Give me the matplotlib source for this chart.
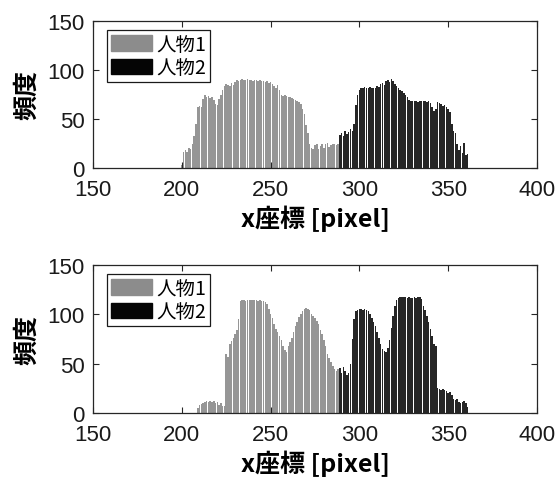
import matplotlib
matplotlib.use("Agg")
import matplotlib.pyplot as plt
import numpy as np

plt.rcParams['font.family'] = ['Liberation Sans', 'Noto Sans CJK JP', 'DejaVu Sans']

# ---- data ----
x1 = list(range(200, 289))   # person 1 bins
x2 = list(range(289, 362))   # person 2 bins

top_p1 = [3, 16, 18, 16, 20, 19, 24, 33, 45, 62,
          63, 62, 70, 74, 72, 73, 71, 72, 69, 65,
          64, 70, 75, 80, 84, 86, 85, 84, 87, 85,
          88, 90, 89, 90, 91, 90, 90, 91, 90, 90,
          89, 90, 90, 89, 90, 89, 89, 88, 89, 87,
          88, 86, 84, 82, 85, 80, 75, 73, 74, 73,
          72, 72, 71, 70, 69, 68, 67, 65, 60, 55,
          44, 36, 25, 20, 19, 23, 24, 19, 22, 25,
          20, 24, 26, 21, 23, 25, 24, 23, 24]
top_p2 = [34, 36, 33, 38, 35, 37, 40, 38, 45, 64,
          75, 80, 82, 82, 83, 82, 82, 83, 82, 82,
          82, 84, 83, 86, 87, 85, 89, 90, 88, 91,
          89, 86, 84, 82, 80, 79, 77, 75, 72, 69,
          68, 68, 68, 68, 67, 68, 68, 68, 68, 67,
          68, 66, 62, 58, 60, 67, 66, 65, 63, 64,
          62, 60, 57, 45, 38, 36, 24, 18, 22, 15,
          26, 13, 14]
bot_p1 = [0, 0, 0, 0, 0, 0, 0, 0, 0, 5,
          8, 9, 10, 11, 12, 11, 12, 11, 12, 10,
          11, 8, 10, 7, 7, 60, 57, 70, 73, 76,
          80, 84, 95, 113, 114, 114, 113, 114, 114, 114,
          114, 114, 114, 113, 114, 113, 113, 112, 110, 105,
          100, 96, 90, 85, 82, 78, 74, 68, 64, 62,
          68, 72, 76, 82, 88, 92, 97, 100, 103, 105,
          106, 105, 104, 100, 98, 96, 93, 90, 84, 80,
          74, 68, 60, 56, 52, 48, 45, 42, 44]
bot_p2 = [46, 40, 47, 42, 38, 40, 50, 75, 95, 103,
          104, 105, 105, 104, 105, 104, 103, 100, 96, 92,
          88, 82, 76, 70, 65, 63, 62, 66, 74, 86,
          98, 108, 114, 116, 117, 117, 117, 117, 116, 117,
          116, 116, 117, 116, 117, 117, 115, 108, 104, 98,
          92, 85, 78, 70, 68, 25, 24, 23, 24, 23,
          22, 20, 21, 18, 14, 13, 14, 11, 10, 11,
          12, 10, 6]

labels = ['人物1', '人物2']
xticks = [150, 200, 250, 300, 350, 400]
yticks = [0, 50, 100, 150]
xlabel = 'x座標 [pixel]'
ylabel = '頻度'

c1 = '#969696'
c2 = '#262626'
spine_c = '#262626'
cjk = ['Noto Sans CJK JP', 'DejaVu Sans']

fig = plt.figure(figsize=(5.58, 4.81), dpi=100)
W, H = 558, 481
ax_top = fig.add_axes([93 / W, (481 - 169) / H, 444 / W, 147 / H])
ax_bot = fig.add_axes([93 / W, (481 - 414) / H, 444 / W, 148.3 / H])

for ax, p1, p2 in [(ax_top, top_p1, top_p2), (ax_bot, bot_p1, bot_p2)]:
    ax.bar(x1, p1, width=0.85, color=c1, edgecolor='none', label=labels[0])
    ax.bar(x2, p2, width=0.85, color=c2, edgecolor='none', label=labels[1])
    ax.set_xlim(150, 400)
    ax.set_ylim(0, 150)
    ax.set_xticks(xticks)
    ax.set_yticks(yticks)
    ax.tick_params(direction='in', top=True, right=True, length=4, width=0.8,
                   colors=spine_c, labelsize=16, labelcolor='#1a1a1a')
    ax.tick_params(axis='x', pad=8)
    ax.tick_params(axis='y', pad=6)
    for s in ax.spines.values():
        s.set_color(spine_c)
        s.set_linewidth(0.9)
    ax.set_xlabel(xlabel, fontsize=18, fontweight='bold', family=cjk, labelpad=3)
    ax.set_ylabel(ylabel, fontsize=18, fontweight='bold', family=cjk, labelpad=6)
    leg = ax.legend(loc='upper left', bbox_to_anchor=(14 / 444, 1 - 9 / 147),
                    borderaxespad=0, frameon=True, fancybox=False,
                    edgecolor='#1a1a1a', borderpad=0.2, handlelength=2.1,
                    handleheight=0.85, handletextpad=0.25, labelspacing=0.12,
                    prop={'family': cjk, 'size': 14})
    leg.get_frame().set_linewidth(0.9)
    leg.get_frame().set_alpha(1)
    leg.legend_handles[0].set_color('#8c8c8c')
    leg.legend_handles[1].set_color('#050505')

fig.savefig('out.png', dpi=100)
